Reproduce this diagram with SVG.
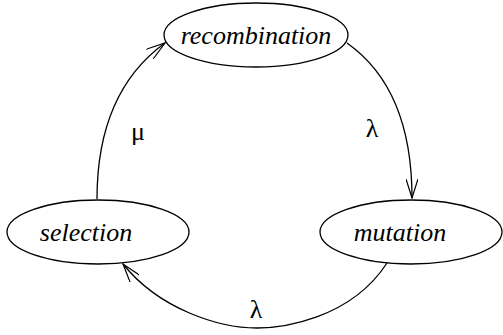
<svg xmlns="http://www.w3.org/2000/svg" width="503" height="335" viewBox="0 0 503 335">
<style>
.node ellipse{fill:#fff;stroke:#000;stroke-width:1.3}
.node text{font-family:"Liberation Serif","Times New Roman","DejaVu Serif",serif;font-style:italic;font-size:26px;text-anchor:middle}
.edge{fill:none;stroke:#000;stroke-width:1.3}
.lbl{font-family:"Liberation Serif","Times New Roman","DejaVu Serif",serif;font-size:26px;text-anchor:middle}
</style>
<defs>
<marker id="arr" viewBox="0 0 20 12" refX="19" refY="6" markerWidth="20" markerHeight="12" markerUnits="userSpaceOnUse" orient="auto">
<path d="M0,0 L19,6 L0,12" fill="none" stroke="#000" stroke-width="1.2"/>
</marker>
</defs>
<g id="connectors">
<path class="edge" d="M97,199 C97,120 125,72 165,43" marker-end="url(#arr)"/>
<path class="edge" d="M347,43 C388,72 412,120 412,198" marker-end="url(#arr)"/>
<path class="edge" d="M387,263 C350,320 280,328 257,328 C220,328 160,310 123,264" marker-end="url(#arr)"/>
<text class="lbl" x="138" y="140">μ</text>
<text class="lbl" x="372" y="137">λ</text>
<text class="lbl" x="256" y="318">λ</text>
</g>
<g id="recombination" class="node">
<ellipse cx="256" cy="35" rx="92" ry="32"/>
<text x="256" y="44">recombination</text>
</g>
<g id="selection" class="node">
<ellipse cx="98" cy="232" rx="91" ry="32"/>
<text x="86" y="241">selection</text>
</g>
<g id="mutation" class="node">
<ellipse cx="411" cy="232" rx="91" ry="32"/>
<text x="400" y="241">mutation</text>
</g>
</svg>
